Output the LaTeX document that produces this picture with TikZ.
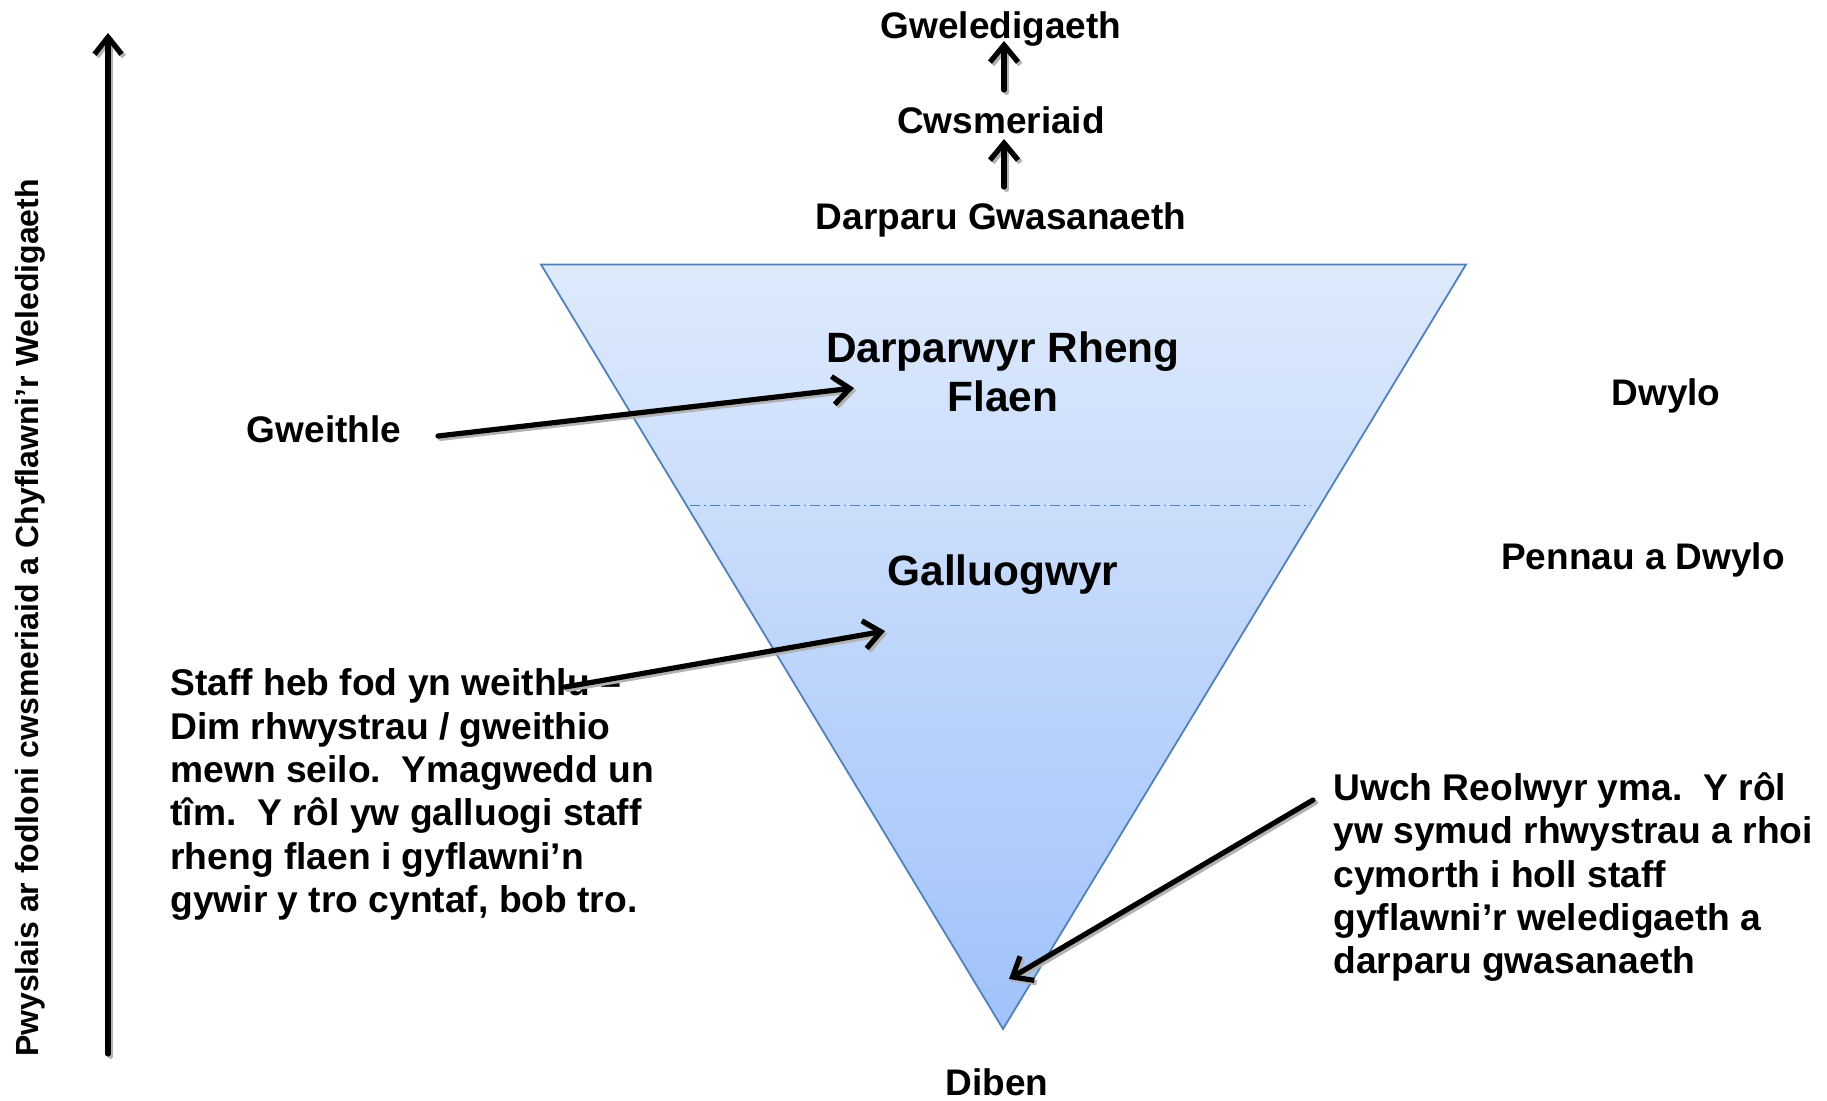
\documentclass[tikz,border=0pt]{standalone}
\usepackage{fontspec}
\setmainfont{Liberation Sans}
\usetikzlibrary{arrows.meta}
\definecolor{triTop}{RGB}{222,234,252}
\definecolor{triBot}{RGB}{160,194,250}
\definecolor{triLine}{RGB}{79,129,189}
\tikzset{
 smalllbl/.style={font=\bfseries\fontsize{18.5}{21.65}\selectfont, inner sep=0pt, anchor=base},
 biglbl/.style={font=\bfseries\fontsize{21.2}{24.5}\selectfont, inner sep=0pt, anchor=base},
 para/.style={font=\bfseries\fontsize{18.6}{21.65}\selectfont, inner sep=0pt, align=left, anchor=north west},
 vlbl/.style={font=\bfseries\fontsize{16}{19}\selectfont, inner sep=0pt, anchor=base, rotate=90},
 arr/.style={line width=2.6pt, line cap=round, -{Straight Barb[length=8.5pt,width=14pt]}},
 vertarr/.style={line width=2.6pt, line cap=round, -{Straight Barb[length=8.5pt,width=13.5pt]}},
 shadowed/.style={draw=black!30},
 divider/.style={draw=triLine, line width=0.75pt, dash pattern=on 5pt off 2pt on 1pt off 2pt},
}
\begin{document}
\begin{tikzpicture}[x=0.5pt,y=-0.5pt]
\useasboundingbox (0,0) rectangle (1827,1100);
% triangle
\coordinate (tl) at (541,264.5);
\coordinate (tr) at (1466,264.5);
\coordinate (ap) at (1003,1029);
\shade[top color=triTop,bottom color=triBot] (tl) -- (tr) -- (ap) -- cycle;
\draw[triLine, line width=0.9pt, line join=miter] (tl) -- (tr) -- (ap) -- cycle;
\coordinate (dl) at (690,505.7);
\coordinate (dr) at (1311,505.7);
\draw[divider] (dl) -- (dr);
% labels
\node[smalllbl] (gwel) at (1001,38.5) {Gweledigaeth};
\node[smalllbl] (cwsm) at (1001,133.5) {Cwsmeriaid};
\node[smalllbl] (darp) at (1001,229) {Darparu Gwasanaeth};
\node[biglbl] (rheng) at (1003,362.5) {Darparwyr Rheng};
\node[biglbl] (flaen) at (1003,411.5) {Flaen};
\node[biglbl] (gallu) at (1003,585) {Galluogwyr};
\node[smalllbl] (gweithle) at (324,442.3) {Gweithle};
\node[smalllbl] (dwylo) at (1666,405.5) {Dwylo};
\node[smalllbl] (pennau) at (1643,569) {Pennau a Dwylo};
\node[smalllbl] (diben) at (997,1095) {Diben};
\node[vlbl] (pwys) at (38.3,618) {Pwyslais ar fodloni cwsmeriaid a Chyflawni’r Weledigaeth};
\node[para] (staff) at (170,668.5) {Staff heb fod yn weithlu –\\Dim rhwystrau / gweithio\\mewn seilo.\ \ Ymagwedd un\\tîm.\ \ Y rôl yw galluogi staff\\rheng flaen i gyflawni’n\\gywir y tro cyntaf, bob tro.};
\node[para] (uwch) at (1333,772.5) {Uwch Reolwyr yma.\ \ Y rôl\\yw symud rhwystrau a rhoi\\cymorth i holl staff\\gyflawni’r weledigaeth a\\darparu gwasanaeth};
% arrow end points
\coordinate (a1s) at (1004,90);   \coordinate (a1e) at (1004,41);
\coordinate (a2s) at (1004,187);  \coordinate (a2e) at (1004,139);
\coordinate (vs) at (108,1054);   \coordinate (ve) at (108,33);
\coordinate (gws) at (438,436);   \coordinate (gwe) at (854,388);
\coordinate (sts) at (565,687);   \coordinate (ste) at (885,631);
\coordinate (uws) at (1313,800);  \coordinate (uwe) at (1009,979);
% shadows
\begin{scope}[transform canvas={xshift=1.2pt,yshift=-1.2pt}]
\draw[arr,shadowed] (a1s) -- (a1e);
\draw[arr,shadowed] (a2s) -- (a2e);
\draw[vertarr,shadowed] (vs) -- (ve);
\draw[arr,shadowed] (gws) -- (gwe);
\draw[arr,shadowed] (sts) -- (ste);
\draw[arr,shadowed] (uws) -- (uwe);
\end{scope}
% arrows
\draw[arr] (a1s) -- (a1e);
\draw[arr] (a2s) -- (a2e);
\draw[vertarr] (vs) -- (ve);
\draw[arr] (gws) -- (gwe);
\draw[arr] (sts) -- (ste);
\draw[arr] (uws) -- (uwe);
\end{tikzpicture}
\end{document}
